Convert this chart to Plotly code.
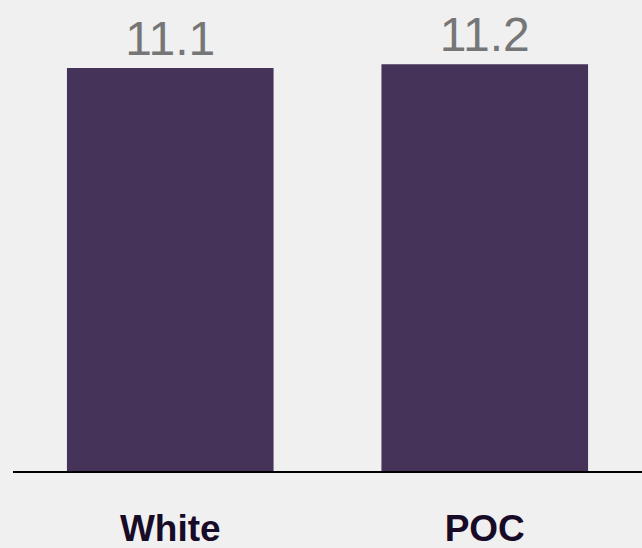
import plotly.graph_objects as go

categories = ["White", "POC"]
values = [11.1, 11.2]
value_labels = ["11.1", "11.2"]

BAR_COLOR = "#463359"
BG = "#f0f0f0"

fig = go.Figure(
    go.Bar(
        x=categories,
        y=values,
        text=value_labels,
        textposition="outside",
        textfont=dict(family="Liberation Sans, Arial, sans-serif", size=48, color="#767676"),
        marker=dict(color=BAR_COLOR, line=dict(width=0)),
        cliponaxis=False,
        hoverinfo="skip",
    )
)

fig.update_layout(
    width=642,
    height=548,
    margin=dict(l=13, r=0, t=0, b=77),
    paper_bgcolor=BG,
    plot_bgcolor=BG,
    bargap=0.343,
    showlegend=False,
    xaxis=dict(
        automargin=False,
        showline=True,
        linecolor="black",
        linewidth=2,
        showgrid=False,
        zeroline=False,
        ticks="",
        ticklabelstandoff=24,
        tickfont=dict(family="Liberation Sans, Arial, sans-serif", size=37, color="#170b28", weight="bold"),
    ),
    yaxis=dict(
        automargin=False,
        range=[0, 12.97],
        visible=False,
        showgrid=False,
        zeroline=False,
    ),
)

fig.write_html(
    "out.html",
    config={"displayModeBar": False},
    post_script="document.body.style.margin='0';document.body.style.overflow='hidden';document.body.style.background='#f0f0f0';",
)
